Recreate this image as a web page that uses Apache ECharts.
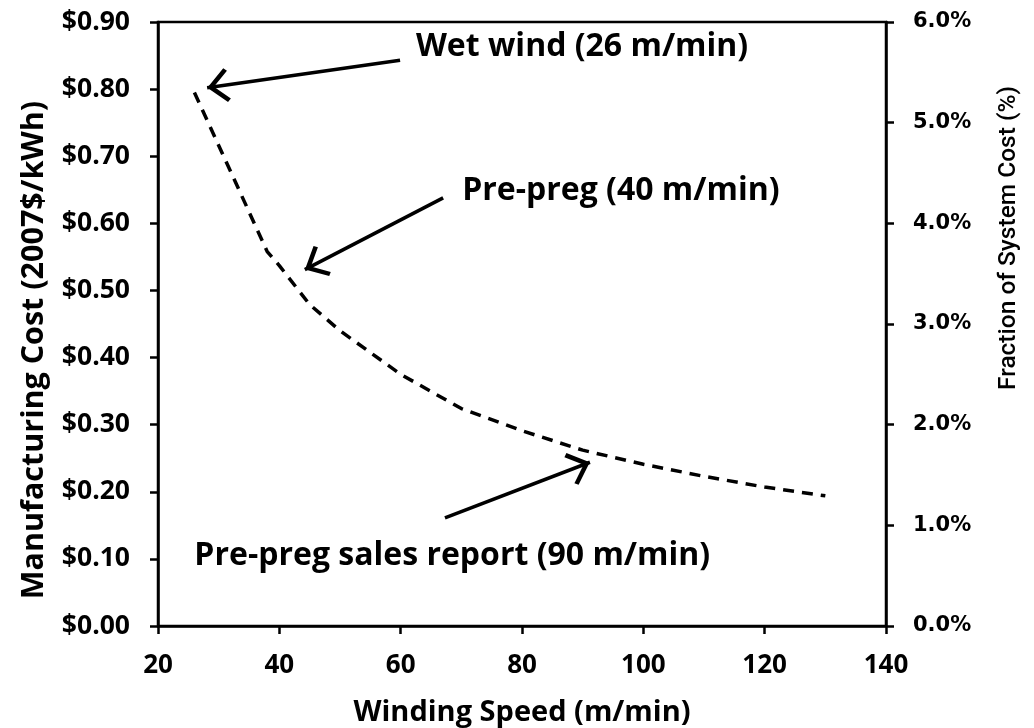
<!DOCTYPE html>
<html>
<head>
<meta charset="utf-8">
<script src="https://cdn.jsdelivr.net/npm/echarts@6/dist/echarts.min.js"></script>
<style>html,body{margin:0;padding:0;background:#fff}#c{width:1034px;height:728px}</style>
</head>
<body>
<div id="c"></div>
<script>
// ---- data ----
const speeds = [26, 38, 40, 45, 50, 60, 70, 80, 90, 100, 110, 120, 130];
const costs  = [0.795, 0.558, 0.537, 0.479, 0.440, 0.375, 0.324, 0.291, 0.262, 0.241, 0.223, 0.207, 0.194];
const xTicks = {min: 20, max: 140, interval: 20};
const leftTicks = {min: 0, max: 0.9, interval: 0.1};
const rightTicks = {min: 0, max: 0.06, interval: 0.01};
const noteTexts = ['Wet wind (26 m/min)', 'Pre-preg (40 m/min)', 'Pre-preg sales report (90 m/min)'];
const noteTextAt = [[89.9, 0.863], [96.3, 0.648], [68.5, 0.104]];
const arrowFrom = [[59.9, 0.843], [67.0, 0.638], [67.3, 0.161]];
const arrowTo   = [[28.1, 0.802], [44.2, 0.531], [91.2, 0.244]];

const FONT = 'Open Sans';
const chevron = 'path://M50,-60 L50.4,-60 L50,-59.6 Z M50,0 L100,50 L91,59 L50,18 L9,59 L0,50 Z';

const chart = echarts.init(document.getElementById('c'), null, {renderer: 'canvas'});
const axisLine = {show: true, lineStyle: {color: '#000', width: 2.5}};
const axisTick = {show: true, inside: false, length: 8, lineStyle: {color: '#000', width: 2.5}};

chart.setOption({
  animation: false,
  backgroundColor: '#fff',
  grid: {left: 158, right: 148, top: 22, bottom: 102, containLabel: false, outerBoundsMode: 'none',
    show: true, borderColor: '#000', borderWidth: 2.5, backgroundColor: 'transparent'},
  xAxis: {
    type: 'value', min: xTicks.min, max: xTicks.max, interval: xTicks.interval,
    axisLine, axisTick, splitLine: {show: false},
    axisLabel: {color: '#000', fontFamily: FONT, fontWeight: 'bold', fontSize: 26, margin: 27},
    name: 'Winding Speed (m/min)', nameLocation: 'middle', nameGap: 72,
    nameTextStyle: {color: '#000', fontFamily: FONT, fontWeight: 'bold', fontSize: 29}
  },
  yAxis: [{
    type: 'value', position: 'left', min: leftTicks.min, max: leftTicks.max, interval: leftTicks.interval,
    axisLine, axisTick, splitLine: {show: false},
    axisLabel: {color: '#000', fontFamily: FONT, fontWeight: 'bold', fontSize: 26.5, margin: 28,
      formatter: v => '$' + v.toFixed(2)},
    name: 'Manufacturing Cost (2007$/kWh)', nameLocation: 'middle', nameGap: 108, nameRotate: 90,
    nameTextStyle: {color: '#000', fontFamily: FONT, fontWeight: 'bold', fontSize: 30.5, padding: [0, 52, 0, 0]}
  }, {
    type: 'value', position: 'right', min: rightTicks.min, max: rightTicks.max, interval: rightTicks.interval,
    axisLine, axisTick, splitLine: {show: false},
    axisLabel: {color: '#000', fontFamily: 'DejaVu Sans', fontWeight: 'bold', fontSize: 21, margin: 27,
      formatter: v => (v * 100).toFixed(1) + '%'},
    name: 'Fraction of System Cost (%)', nameLocation: 'middle', nameGap: 110, nameRotate: 90,
    nameTextStyle: {color: '#000', fontFamily: 'Roboto', fontWeight: 500, fontSize: 24.5, padding: [0, 0, 0, 172]}
  }],
  series: [{
    type: 'line',
    data: speeds.map((s, i) => [s, costs[i]]),
    symbol: 'none',
    lineStyle: {color: '#000', width: 3.5, type: [11, 8]},
    z: 3,
    markLine: {
      silent: true,
      symbol: ['none', chevron],
      symbolSize: [34, 44],
      lineStyle: {color: '#000', width: 3.5, type: 'solid'},
      itemStyle: {color: '#000'},
      label: {show: false},
      data: arrowFrom.map((f, i) => [{coord: f}, {coord: arrowTo[i]}])
    },
    markPoint: {
      silent: true,
      symbol: 'circle', symbolSize: 1,
      itemStyle: {color: 'rgba(0,0,0,0)'},
      data: noteTexts.map((t, i) => ({
        coord: noteTextAt[i], value: t,
        label: {show: true, position: 'inside', formatter: t, color: '#000',
          fontFamily: FONT, fontWeight: 'bold', fontSize: 32}
      }))
    }
  }]
});
</script>
</body>
</html>
